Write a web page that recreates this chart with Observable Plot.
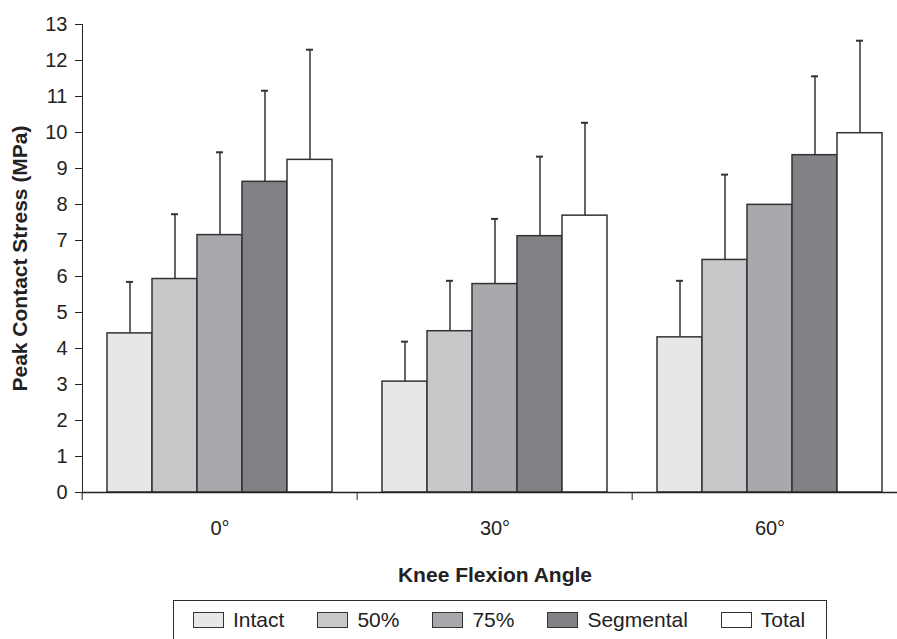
<!DOCTYPE html>
<html><head><meta charset="utf-8">
<script src="https://cdn.jsdelivr.net/npm/d3@7"></script>
<script src="https://cdn.jsdelivr.net/npm/@observablehq/plot@0.6"></script>
<style>
body{margin:0;background:#fff;font-family:"Liberation Sans",Arial,sans-serif;}
#wrap{position:relative;width:897px;height:639px;overflow:hidden;background:#fff;}
#chart svg{overflow:hidden;}
#chart svg g[aria-label="y-axis label"] text,
#chart svg g[aria-label="fx-axis label"] text{font-weight:bold;font-size:21px;}
.legend{position:absolute;left:173px;top:600px;width:654px;height:80px;border:1.5px solid #2b2b2b;box-sizing:border-box;
  display:flex;align-items:flex-start;padding:7px 0 0 19px;font-size:21px;color:#222;line-height:24px;}
.item{display:flex;align-items:center;margin-right:33px;height:24px;}
.sw{width:31px;height:16px;border:1.5px solid #333;box-sizing:border-box;margin-right:9px;}
</style>
</head><body>
<div id="wrap"><div id="chart"></div><div class="legend" id="legend"></div></div>
<script>
const angles = ["0°", "30°", "60°"];
const series = ["Intact", "50%", "75%", "Segmental", "Total"];
// mean peak contact stress (MPa), one array per series, ordered by angle
const intact    = [4.42, 3.08, 4.31];
const pct50     = [5.93, 4.48, 6.46];
const pct75     = [7.15, 5.79, 7.99];
const segmental = [8.63, 7.12, 9.37];
const total     = [9.24, 7.69, 9.98];
// top of error bar (mean + SD); null = no bar drawn
const intactUp    = [5.85, 4.19, 5.88];
const pct50Up     = [7.73, 5.88, 8.83];
const pct75Up     = [9.45, 7.60, null];
const segmentalUp = [11.16, 9.33, 11.56];
const totalUp     = [12.30, 10.27, 12.55];
const yTicks = [0,1,2,3,4,5,6,7,8,9,10,11,12,13];
const colors = ["#e6e7e8", "#c7c8ca", "#a7a9ac", "#808285", "#ffffff"];

const means = [intact, pct50, pct75, segmental, total];
const ups = [intactUp, pct50Up, pct75Up, segmentalUp, totalUp];
const data = [];
angles.forEach((a, i) => series.forEach((s, j) => {
  data.push({angle: a, series: s, value: means[j][i], upper: ups[j][i]});
}));

const W = 897, H = 600, mL = 81, mR = -11;
const halfBand = (W - mL - mR) / angles.length / 2;

const chart = Plot.plot({
  width: W, height: H,
  marginLeft: mL, marginRight: mR, marginTop: 24, marginBottom: H - 492,
  style: {fontSize: "20px", fontFamily: "'Liberation Sans', Arial, sans-serif", color: "#222", background: "#fff"},
  fx: {domain: angles, padding: 0},
  x: {domain: series, paddingInner: 0, paddingOuter: 0.52, axis: null},
  y: {domain: [0, 13], ticks: yTicks, tickSize: 7, tickPadding: 8, line: true,
      label: "Peak Contact Stress (MPa)", labelAnchor: "center", labelArrow: "none", labelOffset: 70},
  color: {domain: series, range: colors},
  marks: [
    Plot.barY(data, {fx: "angle", x: "series", y: "value", fill: "series", stroke: "#333", strokeWidth: 1.5, inset: 0}),
    Plot.ruleX(data, {fx: "angle", x: "series", y1: "value", y2: "upper", stroke: "#333", strokeWidth: 1.5}),
    Plot.tickY(data.filter(d => d.upper != null), {fx: "angle", x: "series", y: "upper", stroke: "#333", strokeWidth: 2, insetLeft: 19, insetRight: 19}),
    Plot.ruleY([0], {stroke: "#222", strokeWidth: 1.5}),
    Plot.axisFx({anchor: "bottom", tickSize: 0, tickPadding: 28, label: "Knee Flexion Angle", labelAnchor: "center", labelArrow: "none", labelOffset: 89}),
    Plot.axisFx({anchor: "bottom", tickSize: 8, tickFormat: () => "", label: null, dx: -halfBand, stroke: "#222"})
  ]
});
document.getElementById("chart").appendChild(chart);

const leg = document.getElementById("legend");
series.forEach((s, j) => {
  const it = document.createElement("div"); it.className = "item";
  const sw = document.createElement("div"); sw.className = "sw"; sw.style.background = colors[j];
  const t = document.createElement("span"); t.textContent = s;
  it.appendChild(sw); it.appendChild(t); leg.appendChild(it);
});
</script>
</body></html>
